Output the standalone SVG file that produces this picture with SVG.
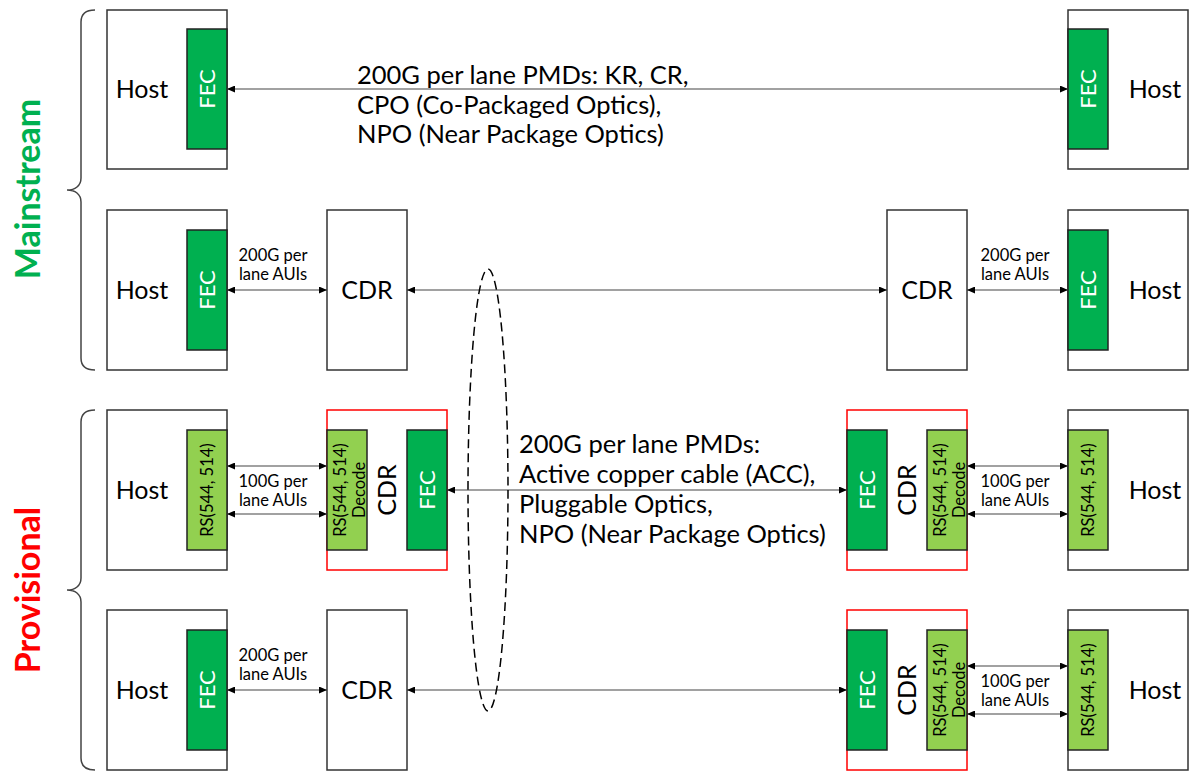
<svg xmlns="http://www.w3.org/2000/svg" width="1191" height="772" viewBox="0 0 1191 772">
<defs>
<marker id="ah" viewBox="0 0 8 7" refX="8" refY="3.5" markerWidth="8" markerHeight="7" markerUnits="userSpaceOnUse" orient="auto-start-reverse"><path d="M0,0 L8,3.5 L0,7 z" fill="#000"/></marker>
<style>
.box{fill:#fff;stroke:#333;stroke-width:1.5}
.red{fill:none;stroke:#ff0000;stroke-width:1.5}
.fec{fill:#00b050;stroke:#222;stroke-width:1.5}
.rs{fill:#92d050;stroke:#222;stroke-width:1.5}
.t{font-family:Lato,"Liberation Sans",sans-serif;fill:#000}
.big{font-size:25px}
.fect{font-size:22px;fill:#fff}
.rst{font-size:16.5px}
.sm{font-size:16.5px}
.main{font-size:25.5px}
.conn{stroke:#444;stroke-width:1.2;fill:none;marker-start:url(#ah);marker-end:url(#ah)}
.brace{stroke:#444;stroke-width:1.5;fill:none}
.lab{font-family:Lato,"Liberation Sans",sans-serif;font-weight:bold;font-size:34px}
</style>
</defs>
<g id="braces">
<path class="brace" d="M95,10 C86,10 81,14 81,22 L81,178 C81,186 75,190 67,190 C75,190 81,194 81,202 L81,358 C81,366 86,370 95,370"/>
<path class="brace" d="M95,410 C86,410 81,414 81,422 L81,578 C81,586 75,590 67,590 C75,590 81,594 81,602 L81,758 C81,766 86,770 95,770"/>
<text class="lab" fill="#00b050" text-anchor="middle" transform="translate(40,189) rotate(-90)">Mainstream</text>
<text class="lab" fill="#ff0000" text-anchor="middle" transform="translate(40,590) rotate(-90)">Provisional</text>
</g>
<!-- Row 1 -->
<g id="r1-host-l"><rect class="box" x="107" y="10" width="120" height="159"/><text class="t big" x="142" y="98" text-anchor="middle">Host</text></g>
<g id="r1-fec-l"><rect class="fec" x="187" y="29" width="40" height="120"/><text class="t fect" text-anchor="middle" transform="translate(215,89) rotate(-90)">FEC</text></g>
<g id="r1-host-r"><rect class="box" x="1068" y="10" width="120" height="159"/><text class="t big" x="1155" y="98" text-anchor="middle">Host</text></g>
<g id="r1-fec-r"><rect class="fec" x="1068" y="29" width="40" height="120"/><text class="t fect" text-anchor="middle" transform="translate(1096,89) rotate(-90)">FEC</text></g>
<!-- Row 2 -->
<g id="r2-host-l"><rect class="box" x="107" y="210" width="120" height="160"/><text class="t big" x="142" y="299" text-anchor="middle">Host</text></g>
<g id="r2-fec-l"><rect class="fec" x="187" y="230" width="40" height="120"/><text class="t fect" text-anchor="middle" transform="translate(215,290) rotate(-90)">FEC</text></g>
<g id="r2-cdr-l"><rect class="box" x="327" y="210" width="80" height="160"/><text class="t big" x="367" y="299" text-anchor="middle">CDR</text></g>
<g id="r2-cdr-r"><rect class="box" x="887" y="210" width="80" height="160"/><text class="t big" x="927" y="299" text-anchor="middle">CDR</text></g>
<g id="r2-host-r"><rect class="box" x="1068" y="210" width="120" height="160"/><text class="t big" x="1155" y="299" text-anchor="middle">Host</text></g>
<g id="r2-fec-r"><rect class="fec" x="1068" y="230" width="40" height="120"/><text class="t fect" text-anchor="middle" transform="translate(1096,290) rotate(-90)">FEC</text></g>
<!-- Row 3 -->
<g id="r3-host-l"><rect class="box" x="107" y="410" width="120" height="160"/><text class="t big" x="142" y="499" text-anchor="middle">Host</text></g>
<g id="r3-rs-l"><rect class="rs" x="187" y="430" width="40" height="120"/><text class="t rst" text-anchor="middle" transform="translate(213,490) rotate(-90)">RS(544, 514)</text></g>
<g id="r3-cdr-l"><rect class="red" x="327" y="410" width="120" height="160"/><text class="t big" text-anchor="middle" transform="translate(396,490) rotate(-90)">CDR</text></g>
<g id="r3-dec-l"><rect class="rs" x="327" y="430" width="40" height="120"/><text class="t rst" text-anchor="middle" transform="translate(346,490) rotate(-90)"><tspan x="0" y="0">RS(544, 514)</tspan><tspan x="0" y="19">Decode</tspan></text></g>
<g id="r3-fec-l"><rect class="fec" x="407" y="430" width="40" height="120"/><text class="t fect" text-anchor="middle" transform="translate(435,490) rotate(-90)">FEC</text></g>
<g id="r3-cdr-r"><rect class="red" x="847" y="410" width="120" height="160"/><text class="t big" text-anchor="middle" transform="translate(916,490) rotate(-90)">CDR</text></g>
<g id="r3-fec-r"><rect class="fec" x="847" y="430" width="40" height="120"/><text class="t fect" text-anchor="middle" transform="translate(875,490) rotate(-90)">FEC</text></g>
<g id="r3-dec-r"><rect class="rs" x="927" y="430" width="40" height="120"/><text class="t rst" text-anchor="middle" transform="translate(946,490) rotate(-90)"><tspan x="0" y="0">RS(544, 514)</tspan><tspan x="0" y="19">Decode</tspan></text></g>
<g id="r3-host-r"><rect class="box" x="1068" y="410" width="120" height="160"/><text class="t big" x="1155" y="499" text-anchor="middle">Host</text></g>
<g id="r3-rs-r"><rect class="rs" x="1068" y="430" width="40" height="120"/><text class="t rst" text-anchor="middle" transform="translate(1094,490) rotate(-90)">RS(544, 514)</text></g>
<!-- Row 4 -->
<g id="r4-host-l"><rect class="box" x="107" y="610" width="120" height="160"/><text class="t big" x="142" y="699" text-anchor="middle">Host</text></g>
<g id="r4-fec-l"><rect class="fec" x="187" y="630" width="40" height="120"/><text class="t fect" text-anchor="middle" transform="translate(215,690) rotate(-90)">FEC</text></g>
<g id="r4-cdr-l"><rect class="box" x="327" y="610" width="80" height="160"/><text class="t big" x="367" y="699" text-anchor="middle">CDR</text></g>
<g id="r4-cdr-r"><rect class="red" x="847" y="610" width="120" height="160"/><text class="t big" text-anchor="middle" transform="translate(916,690) rotate(-90)">CDR</text></g>
<g id="r4-fec-r"><rect class="fec" x="847" y="630" width="40" height="120"/><text class="t fect" text-anchor="middle" transform="translate(875,690) rotate(-90)">FEC</text></g>
<g id="r4-dec-r"><rect class="rs" x="927" y="630" width="40" height="120"/><text class="t rst" text-anchor="middle" transform="translate(946,690) rotate(-90)"><tspan x="0" y="0">RS(544, 514)</tspan><tspan x="0" y="19">Decode</tspan></text></g>
<g id="r4-host-r"><rect class="box" x="1068" y="610" width="120" height="160"/><text class="t big" x="1155" y="699" text-anchor="middle">Host</text></g>
<g id="r4-rs-r"><rect class="rs" x="1068" y="630" width="40" height="120"/><text class="t rst" text-anchor="middle" transform="translate(1094,690) rotate(-90)">RS(544, 514)</text></g>
<!-- connectors -->
<g id="connectors">
<line class="conn" x1="227" y1="89" x2="1068" y2="89"/>
<line class="conn" x1="227" y1="290" x2="327" y2="290"/>
<line class="conn" x1="407" y1="290" x2="887" y2="290"/>
<line class="conn" x1="967" y1="290" x2="1068" y2="290"/>
<line class="conn" x1="227" y1="466" x2="327" y2="466"/>
<line class="conn" x1="227" y1="514" x2="327" y2="514"/>
<line class="conn" x1="447" y1="490" x2="847" y2="490"/>
<line class="conn" x1="967" y1="466" x2="1068" y2="466"/>
<line class="conn" x1="967" y1="514" x2="1068" y2="514"/>
<line class="conn" x1="227" y1="690" x2="327" y2="690"/>
<line class="conn" x1="407" y1="690" x2="847" y2="690"/>
<line class="conn" x1="967" y1="666" x2="1068" y2="666"/>
<line class="conn" x1="967" y1="714" x2="1068" y2="714"/>
<ellipse cx="488" cy="490" rx="20" ry="221" fill="none" stroke="#000" stroke-width="1.5" stroke-dasharray="9,5"/>
</g>
<g id="labels">
<text class="t main"><tspan x="357" y="84">200G per lane PMDs: KR, CR,</tspan><tspan x="357" y="114">CPO (Co-Packaged Optics),</tspan><tspan x="357" y="143">NPO (Near Package Optics)</tspan></text>
<text class="t main"><tspan x="519" y="453">200G per lane PMDs:</tspan><tspan x="519" y="483">Active copper cable (ACC),</tspan><tspan x="519" y="513">Pluggable Optics,</tspan><tspan x="519" y="543">NPO (Near Package Optics)</tspan></text>
<text class="t sm" text-anchor="middle"><tspan x="273" y="261">200G per</tspan><tspan x="273" y="280">lane AUIs</tspan></text>
<text class="t sm" text-anchor="middle"><tspan x="1015" y="261">200G per</tspan><tspan x="1015" y="280">lane AUIs</tspan></text>
<text class="t sm" text-anchor="middle"><tspan x="273" y="487">100G per</tspan><tspan x="273" y="506">lane AUIs</tspan></text>
<text class="t sm" text-anchor="middle"><tspan x="1015" y="487">100G per</tspan><tspan x="1015" y="506">lane AUIs</tspan></text>
<text class="t sm" text-anchor="middle"><tspan x="273" y="661">200G per</tspan><tspan x="273" y="680">lane AUIs</tspan></text>
<text class="t sm" text-anchor="middle"><tspan x="1015" y="687">100G per</tspan><tspan x="1015" y="706">lane AUIs</tspan></text>
</g>
</svg>
